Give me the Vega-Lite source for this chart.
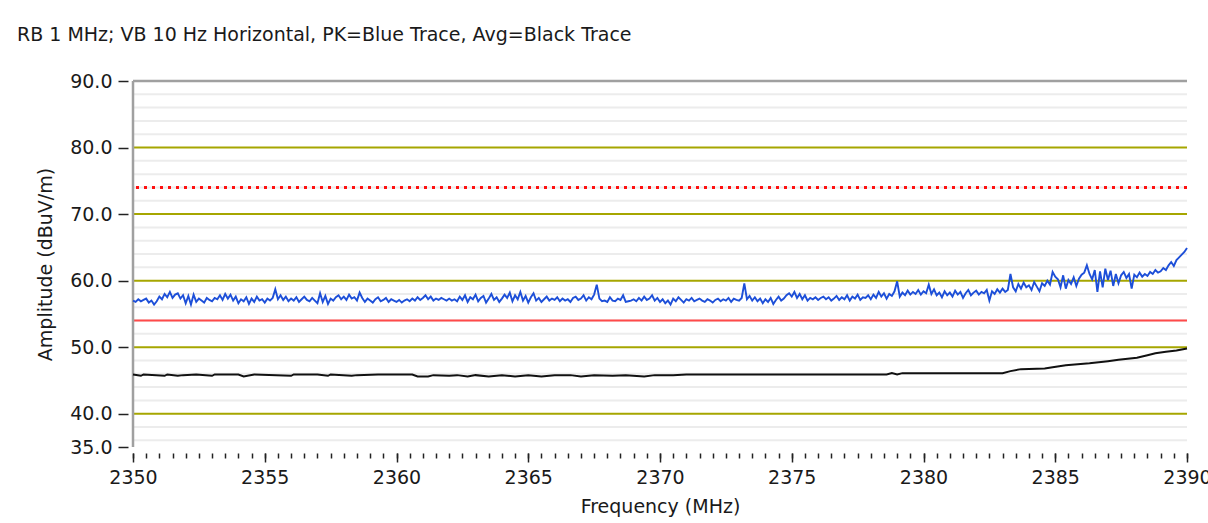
{
"$schema":"https://vega.github.io/schema/vega-lite/v6.json",
"width":1054,"height":366,"autosize":"none",
"padding":{"left":133,"top":81,"right":21,"bottom":76},
"background":"white",
"title":{"text":"RB 1 MHz; VB 10 Hz Horizontal, PK=Blue Trace, Avg=Black Trace","anchor":"start","frame":"group","dx":-116,"offset":12,"baseline":"alphabetic","font":"DejaVu Sans","fontSize":19,"fontWeight":"normal","color":"#1a1a1a"},
"datasets":{
"grid":[{"y":36,"k":"minor"},{"y":38,"k":"minor"},{"y":42,"k":"minor"},{"y":44,"k":"minor"},{"y":46,"k":"minor"},{"y":48,"k":"minor"},{"y":52,"k":"minor"},{"y":54,"k":"minor"},{"y":56,"k":"minor"},{"y":58,"k":"minor"},{"y":62,"k":"minor"},{"y":64,"k":"minor"},{"y":66,"k":"minor"},{"y":68,"k":"minor"},{"y":72,"k":"minor"},{"y":74,"k":"minor"},{"y":76,"k":"minor"},{"y":78,"k":"minor"},{"y":82,"k":"minor"},{"y":84,"k":"minor"},{"y":86,"k":"minor"},{"y":88,"k":"minor"},{"y":40,"k":"major"},{"y":50,"k":"major"},{"y":60,"k":"major"},{"y":70,"k":"major"},{"y":80,"k":"major"},{"y":90,"k":"border"}],
"frame":[{"f":2350}],
"limits":[{"level":74,"type":"peak"},{"level":54,"type":"avg"}],
"avg":[{"f":2350.0,"v":45.9},{"f":2350.3,"v":45.7},{"f":2350.4,"v":45.9},{"f":2351.2,"v":45.7},{"f":2351.3,"v":45.9},{"f":2351.7,"v":45.7},{"f":2351.9,"v":45.8},{"f":2352.4,"v":45.9},{"f":2353.0,"v":45.7},{"f":2353.1,"v":45.9},{"f":2354.0,"v":45.9},{"f":2354.2,"v":45.6},{"f":2354.6,"v":45.9},{"f":2356.0,"v":45.7},{"f":2356.1,"v":45.9},{"f":2357.0,"v":45.9},{"f":2357.4,"v":45.7},{"f":2357.5,"v":45.9},{"f":2358.3,"v":45.7},{"f":2358.5,"v":45.8},{"f":2359.3,"v":45.9},{"f":2360.6,"v":45.9},{"f":2360.8,"v":45.6},{"f":2361.2,"v":45.6},{"f":2361.4,"v":45.8},{"f":2362.0,"v":45.7},{"f":2362.3,"v":45.8},{"f":2362.7,"v":45.6},{"f":2363.0,"v":45.8},{"f":2363.5,"v":45.6},{"f":2364.0,"v":45.8},{"f":2364.5,"v":45.6},{"f":2365.0,"v":45.8},{"f":2365.5,"v":45.6},{"f":2366.0,"v":45.8},{"f":2366.6,"v":45.8},{"f":2367.0,"v":45.6},{"f":2367.5,"v":45.8},{"f":2368.2,"v":45.7},{"f":2368.7,"v":45.8},{"f":2369.4,"v":45.6},{"f":2369.8,"v":45.8},{"f":2370.5,"v":45.8},{"f":2371.0,"v":45.9},{"f":2374.0,"v":45.9},{"f":2378.6,"v":45.9},{"f":2378.8,"v":46.1},{"f":2379.0,"v":45.9},{"f":2379.2,"v":46.1},{"f":2383.0,"v":46.1},{"f":2383.3,"v":46.4},{"f":2383.7,"v":46.7},{"f":2384.6,"v":46.8},{"f":2384.9,"v":47.0},{"f":2385.4,"v":47.3},{"f":2386.3,"v":47.6},{"f":2387.0,"v":47.9},{"f":2387.4,"v":48.1},{"f":2388.1,"v":48.4},{"f":2388.5,"v":48.8},{"f":2388.8,"v":49.1},{"f":2389.2,"v":49.3},{"f":2389.6,"v":49.5},{"f":2390.0,"v":49.8}],
"pk":[
{"f":2350.0,"v":57.0},{"f":2350.1,"v":56.8},{"f":2350.2,"v":57.2},{"f":2350.3,"v":56.9},{"f":2350.4,"v":57.1},{"f":2350.5,"v":57.3},{"f":2350.6,"v":56.7},{"f":2350.7,"v":57.0},{"f":2350.8,"v":56.4},{"f":2350.9,"v":56.9},
{"f":2351.0,"v":57.6},{"f":2351.1,"v":57.2},{"f":2351.2,"v":58.0},{"f":2351.3,"v":57.5},{"f":2351.4,"v":58.3},{"f":2351.5,"v":57.4},{"f":2351.6,"v":57.9},{"f":2351.7,"v":58.1},{"f":2351.8,"v":57.3},{"f":2351.9,"v":57.8},
{"f":2352.0,"v":56.6},{"f":2352.1,"v":57.7},{"f":2352.2,"v":56.4},{"f":2352.3,"v":57.9},{"f":2352.4,"v":56.8},{"f":2352.5,"v":57.3},{"f":2352.6,"v":57.0},{"f":2352.7,"v":56.7},{"f":2352.8,"v":57.4},{"f":2352.9,"v":57.1},
{"f":2353.0,"v":56.9},{"f":2353.1,"v":57.4},{"f":2353.2,"v":57.2},{"f":2353.3,"v":57.8},{"f":2353.4,"v":57.1},{"f":2353.5,"v":58.0},{"f":2353.6,"v":57.3},{"f":2353.7,"v":57.9},{"f":2353.8,"v":57.0},{"f":2353.9,"v":57.6},
{"f":2354.0,"v":56.6},{"f":2354.1,"v":57.2},{"f":2354.2,"v":56.9},{"f":2354.3,"v":57.5},{"f":2354.4,"v":56.5},{"f":2354.5,"v":57.3},{"f":2354.6,"v":56.8},{"f":2354.7,"v":57.6},{"f":2354.8,"v":57.0},{"f":2354.9,"v":57.2},
{"f":2355.0,"v":56.7},{"f":2355.1,"v":57.3},{"f":2355.2,"v":57.0},{"f":2355.3,"v":57.4},{"f":2355.4,"v":58.7},{"f":2355.5,"v":57.2},{"f":2355.6,"v":57.8},{"f":2355.7,"v":57.1},{"f":2355.8,"v":57.6},{"f":2355.9,"v":56.9},
{"f":2356.0,"v":57.3},{"f":2356.1,"v":57.0},{"f":2356.2,"v":57.5},{"f":2356.3,"v":56.8},{"f":2356.4,"v":57.2},{"f":2356.5,"v":57.6},{"f":2356.6,"v":57.1},{"f":2356.7,"v":56.9},{"f":2356.8,"v":57.4},{"f":2356.9,"v":57.0},
{"f":2357.0,"v":56.6},{"f":2357.1,"v":58.1},{"f":2357.2,"v":56.8},{"f":2357.3,"v":57.7},{"f":2357.4,"v":56.5},{"f":2357.5,"v":57.3},{"f":2357.6,"v":57.0},{"f":2357.7,"v":57.5},{"f":2357.8,"v":57.8},{"f":2357.9,"v":57.2},
{"f":2358.0,"v":57.6},{"f":2358.1,"v":57.1},{"f":2358.2,"v":57.9},{"f":2358.3,"v":57.3},{"f":2358.4,"v":57.5},{"f":2358.5,"v":57.0},{"f":2358.6,"v":58.2},{"f":2358.7,"v":57.4},{"f":2358.8,"v":56.8},{"f":2358.9,"v":57.3},
{"f":2359.0,"v":57.0},{"f":2359.1,"v":56.7},{"f":2359.2,"v":57.2},{"f":2359.3,"v":57.5},{"f":2359.4,"v":56.9},{"f":2359.5,"v":57.1},{"f":2359.6,"v":57.4},{"f":2359.7,"v":56.8},{"f":2359.8,"v":57.2},{"f":2359.9,"v":57.0},
{"f":2360.0,"v":56.8},{"f":2360.1,"v":57.1},{"f":2360.2,"v":56.7},{"f":2360.3,"v":57.0},{"f":2360.4,"v":57.2},{"f":2360.5,"v":56.9},{"f":2360.6,"v":57.3},{"f":2360.7,"v":57.0},{"f":2360.8,"v":57.5},{"f":2360.9,"v":57.1},
{"f":2361.0,"v":57.4},{"f":2361.1,"v":57.8},{"f":2361.2,"v":57.2},{"f":2361.3,"v":57.6},{"f":2361.4,"v":57.0},{"f":2361.5,"v":57.3},{"f":2361.6,"v":57.1},{"f":2361.7,"v":57.4},{"f":2361.8,"v":57.2},{"f":2361.9,"v":57.0},
{"f":2362.0,"v":57.3},{"f":2362.1,"v":57.0},{"f":2362.2,"v":57.2},{"f":2362.3,"v":56.9},{"f":2362.4,"v":57.6},{"f":2362.5,"v":57.1},{"f":2362.6,"v":57.8},{"f":2362.7,"v":56.8},{"f":2362.8,"v":57.5},{"f":2362.9,"v":57.2},
{"f":2363.0,"v":57.9},{"f":2363.1,"v":56.9},{"f":2363.2,"v":57.4},{"f":2363.3,"v":57.7},{"f":2363.4,"v":56.7},{"f":2363.5,"v":57.3},{"f":2363.6,"v":58.0},{"f":2363.7,"v":57.1},{"f":2363.8,"v":57.5},{"f":2363.9,"v":56.8},
{"f":2364.0,"v":57.3},{"f":2364.1,"v":57.9},{"f":2364.2,"v":57.4},{"f":2364.3,"v":58.2},{"f":2364.4,"v":56.9},{"f":2364.5,"v":57.8},{"f":2364.6,"v":57.2},{"f":2364.7,"v":58.3},{"f":2364.8,"v":57.0},{"f":2364.9,"v":57.7},
{"f":2365.0,"v":56.7},{"f":2365.1,"v":57.5},{"f":2365.2,"v":58.1},{"f":2365.3,"v":57.0},{"f":2365.4,"v":57.4},{"f":2365.5,"v":56.8},{"f":2365.6,"v":57.2},{"f":2365.7,"v":57.6},{"f":2365.8,"v":57.0},{"f":2365.9,"v":57.3},
{"f":2366.0,"v":57.1},{"f":2366.1,"v":57.5},{"f":2366.2,"v":56.9},{"f":2366.3,"v":57.3},{"f":2366.4,"v":57.0},{"f":2366.5,"v":57.2},{"f":2366.6,"v":56.8},{"f":2366.7,"v":57.4},{"f":2366.8,"v":57.6},{"f":2366.9,"v":57.1},
{"f":2367.0,"v":57.3},{"f":2367.1,"v":57.8},{"f":2367.2,"v":57.0},{"f":2367.3,"v":57.5},{"f":2367.4,"v":57.2},{"f":2367.5,"v":57.9},{"f":2367.6,"v":59.4},{"f":2367.7,"v":57.3},{"f":2367.8,"v":56.9},{"f":2367.9,"v":57.0},
{"f":2368.0,"v":56.8},{"f":2368.1,"v":57.5},{"f":2368.2,"v":57.0},{"f":2368.3,"v":56.9},{"f":2368.4,"v":57.3},{"f":2368.5,"v":57.1},{"f":2368.6,"v":57.8},{"f":2368.7,"v":56.8},{"f":2368.8,"v":56.9},{"f":2368.9,"v":57.0},
{"f":2369.0,"v":57.2},{"f":2369.1,"v":56.9},{"f":2369.2,"v":57.4},{"f":2369.3,"v":57.0},{"f":2369.4,"v":57.6},{"f":2369.5,"v":57.1},{"f":2369.6,"v":57.3},{"f":2369.7,"v":57.8},{"f":2369.8,"v":57.0},{"f":2369.9,"v":57.4},
{"f":2370.0,"v":56.8},{"f":2370.1,"v":57.2},{"f":2370.2,"v":56.6},{"f":2370.3,"v":57.0},{"f":2370.4,"v":56.4},{"f":2370.5,"v":57.3},{"f":2370.6,"v":56.9},{"f":2370.7,"v":57.5},{"f":2370.8,"v":57.1},{"f":2370.9,"v":56.7},
{"f":2371.0,"v":57.2},{"f":2371.1,"v":57.0},{"f":2371.2,"v":57.4},{"f":2371.3,"v":56.9},{"f":2371.4,"v":57.1},{"f":2371.5,"v":57.3},{"f":2371.6,"v":57.0},{"f":2371.7,"v":56.8},{"f":2371.8,"v":57.2},{"f":2371.9,"v":57.0},
{"f":2372.0,"v":56.7},{"f":2372.1,"v":57.1},{"f":2372.2,"v":57.3},{"f":2372.3,"v":56.9},{"f":2372.4,"v":57.2},{"f":2372.5,"v":57.0},{"f":2372.6,"v":57.4},{"f":2372.7,"v":56.8},{"f":2372.8,"v":57.3},{"f":2372.9,"v":57.1},
{"f":2373.0,"v":57.0},{"f":2373.1,"v":57.4},{"f":2373.2,"v":59.6},{"f":2373.3,"v":57.2},{"f":2373.4,"v":57.7},{"f":2373.5,"v":57.0},{"f":2373.6,"v":57.5},{"f":2373.7,"v":56.9},{"f":2373.8,"v":57.3},{"f":2373.9,"v":56.6},
{"f":2374.0,"v":57.2},{"f":2374.1,"v":56.8},{"f":2374.2,"v":57.4},{"f":2374.3,"v":56.5},{"f":2374.4,"v":57.1},{"f":2374.5,"v":57.6},{"f":2374.6,"v":57.0},{"f":2374.7,"v":57.3},{"f":2374.8,"v":57.8},{"f":2374.9,"v":58.1},
{"f":2375.0,"v":57.6},{"f":2375.1,"v":58.3},{"f":2375.2,"v":57.4},{"f":2375.3,"v":58.0},{"f":2375.4,"v":57.2},{"f":2375.5,"v":57.8},{"f":2375.6,"v":57.0},{"f":2375.7,"v":57.4},{"f":2375.8,"v":57.2},{"f":2375.9,"v":57.5},
{"f":2376.0,"v":57.1},{"f":2376.1,"v":57.4},{"f":2376.2,"v":57.6},{"f":2376.3,"v":57.2},{"f":2376.4,"v":57.5},{"f":2376.5,"v":57.0},{"f":2376.6,"v":57.3},{"f":2376.7,"v":57.7},{"f":2376.8,"v":57.1},{"f":2376.9,"v":57.5},
{"f":2377.0,"v":57.2},{"f":2377.1,"v":57.8},{"f":2377.2,"v":57.0},{"f":2377.3,"v":57.6},{"f":2377.4,"v":57.3},{"f":2377.5,"v":57.9},{"f":2377.6,"v":57.1},{"f":2377.7,"v":57.5},{"f":2377.8,"v":57.4},{"f":2377.9,"v":57.8},
{"f":2378.0,"v":57.2},{"f":2378.1,"v":57.9},{"f":2378.2,"v":57.4},{"f":2378.3,"v":58.3},{"f":2378.4,"v":57.6},{"f":2378.5,"v":58.1},{"f":2378.6,"v":57.3},{"f":2378.7,"v":58.0},{"f":2378.8,"v":57.7},{"f":2378.9,"v":58.4},
{"f":2379.0,"v":59.9},{"f":2379.1,"v":57.6},{"f":2379.2,"v":58.2},{"f":2379.3,"v":57.8},{"f":2379.4,"v":58.5},{"f":2379.5,"v":57.9},{"f":2379.6,"v":58.3},{"f":2379.7,"v":58.0},{"f":2379.8,"v":58.6},{"f":2379.9,"v":57.9},
{"f":2380.0,"v":58.4},{"f":2380.1,"v":58.1},{"f":2380.2,"v":59.4},{"f":2380.3,"v":58.0},{"f":2380.4,"v":58.7},{"f":2380.5,"v":57.8},{"f":2380.6,"v":58.2},{"f":2380.7,"v":57.5},{"f":2380.8,"v":58.4},{"f":2380.9,"v":57.8},
{"f":2381.0,"v":58.2},{"f":2381.1,"v":57.6},{"f":2381.2,"v":58.5},{"f":2381.3,"v":57.9},{"f":2381.4,"v":58.3},{"f":2381.5,"v":57.4},{"f":2381.6,"v":58.1},{"f":2381.7,"v":58.6},{"f":2381.8,"v":57.8},{"f":2381.9,"v":58.2},
{"f":2382.0,"v":58.5},{"f":2382.1,"v":57.9},{"f":2382.2,"v":58.3},{"f":2382.3,"v":58.1},{"f":2382.4,"v":58.6},{"f":2382.5,"v":57.0},{"f":2382.6,"v":58.4},{"f":2382.7,"v":58.0},{"f":2382.8,"v":58.7},{"f":2382.9,"v":58.2},
{"f":2383.0,"v":58.8},{"f":2383.1,"v":58.3},{"f":2383.2,"v":58.6},{"f":2383.3,"v":61.0},{"f":2383.4,"v":59.0},{"f":2383.5,"v":58.4},{"f":2383.6,"v":59.5},{"f":2383.7,"v":58.8},{"f":2383.8,"v":59.7},{"f":2383.9,"v":59.0},
{"f":2384.0,"v":59.3},{"f":2384.1,"v":58.6},{"f":2384.2,"v":59.8},{"f":2384.3,"v":59.1},{"f":2384.4,"v":58.4},{"f":2384.5,"v":59.6},{"f":2384.6,"v":59.2},{"f":2384.7,"v":60.0},{"f":2384.8,"v":59.4},{"f":2384.9,"v":61.3},
{"f":2385.0,"v":60.6},{"f":2385.1,"v":60.2},{"f":2385.2,"v":59.0},{"f":2385.3,"v":60.8},{"f":2385.4,"v":58.8},{"f":2385.5,"v":60.1},{"f":2385.6,"v":59.5},{"f":2385.7,"v":60.5},{"f":2385.8,"v":59.2},{"f":2385.9,"v":60.3},
{"f":2386.0,"v":60.9},{"f":2386.1,"v":61.2},{"f":2386.2,"v":62.3},{"f":2386.3,"v":61.0},{"f":2386.4,"v":60.2},{"f":2386.5,"v":61.6},{"f":2386.6,"v":58.3},{"f":2386.7,"v":61.4},{"f":2386.8,"v":59.0},{"f":2386.9,"v":61.8},
{"f":2387.0,"v":60.1},{"f":2387.1,"v":61.5},{"f":2387.2,"v":59.2},{"f":2387.3,"v":61.0},{"f":2387.4,"v":59.6},{"f":2387.5,"v":60.8},{"f":2387.6,"v":61.3},{"f":2387.7,"v":60.4},{"f":2387.8,"v":61.0},{"f":2387.9,"v":58.8},
{"f":2388.0,"v":60.9},{"f":2388.1,"v":60.5},{"f":2388.2,"v":61.2},{"f":2388.3,"v":60.6},{"f":2388.4,"v":61.0},{"f":2388.5,"v":60.7},{"f":2388.6,"v":61.3},{"f":2388.7,"v":61.0},{"f":2388.8,"v":61.6},{"f":2388.9,"v":61.2},
{"f":2389.0,"v":61.4},{"f":2389.1,"v":61.9},{"f":2389.2,"v":61.6},{"f":2389.3,"v":62.3},{"f":2389.4,"v":62.8},{"f":2389.5,"v":62.2},{"f":2389.6,"v":63.1},{"f":2389.7,"v":63.5},{"f":2389.8,"v":63.9},{"f":2389.9,"v":64.3},
{"f":2390.0,"v":64.9}]
},
"resolve":{"axis":{"x":"independent"}},
"layer":[
{"data":{"name":"grid"},"transform":[{"filter":"datum.k === 'minor'"}],"mark":{"type":"rule","color":"#ececec","strokeWidth":2},
 "encoding":{"y":{"field":"y","type":"quantitative","title":"Amplitude (dBuV/m)","scale":{"domain":[35,90],"nice":false,"zero":false}}}},
{"data":{"name":"grid"},"transform":[{"filter":"datum.k === 'major'"}],"mark":{"type":"rule","color":"#a6a600","strokeWidth":2},
 "encoding":{"y":{"field":"y","type":"quantitative","title":"Amplitude (dBuV/m)"}}},
{"data":{"name":"grid"},"transform":[{"filter":"datum.k === 'border'"}],"mark":{"type":"rule","color":"#a0a0a0","strokeWidth":2.5},
 "encoding":{"y":{"field":"y","type":"quantitative","title":"Amplitude (dBuV/m)"}}},
{"data":{"name":"limits"},"transform":[{"filter":"datum.type === 'peak'"}],"mark":{"type":"rule","color":"#ff1010","strokeWidth":3,"strokeDash":[3,5]},
 "encoding":{"y":{"field":"level","type":"quantitative","title":"Amplitude (dBuV/m)"}}},
{"data":{"name":"limits"},"transform":[{"filter":"datum.type === 'avg'"}],"mark":{"type":"rule","color":"#ff4a4a","strokeWidth":2},
 "encoding":{"y":{"field":"level","type":"quantitative","title":"Amplitude (dBuV/m)"}}},
{"data":{"name":"frame"},"mark":{"type":"rule","color":"#a0a0a0","strokeWidth":2.5},
 "encoding":{"x":{"field":"f","type":"quantitative","title":"Frequency (MHz)","scale":{"domain":[2350,2390],"nice":false,"zero":false},
  "axis":{"orient":"bottom","values":[2350,2355,2360,2365,2370,2375,2380,2385,2390],"format":"d","labelOverlap":false,"labelFlush":false,"labelBound":false,
   "domain":false,"grid":false,"offset":6,"tickColor":"#222222","tickWidth":1.5,"tickSize":9,
   "labelPadding":6,"labelFont":"DejaVu Sans","labelFontSize":19,"labelColor":"#1a1a1a",
   "titleFont":"DejaVu Sans","titleFontSize":19,"titleFontWeight":"normal","titleColor":"#1a1a1a","titlePadding":10}}}},
{"data":{"name":"avg"},"mark":{"type":"line","color":"#111111","strokeWidth":2},
 "encoding":{"x":{"field":"f","type":"quantitative","axis":null},"y":{"field":"v","type":"quantitative","title":"Amplitude (dBuV/m)"}}},
{"data":{"name":"pk"},"mark":{"type":"line","color":"#1d4fd8","strokeWidth":1.9},
 "encoding":{
  "x":{"field":"f","type":"quantitative","axis":{"orient":"bottom","title":null,"labels":false,"values":[2350,2350.5,2351,2351.5,2352,2352.5,2353,2353.5,2354,2354.5,2355,2355.5,2356,2356.5,2357,2357.5,2358,2358.5,2359,2359.5,2360,2360.5,2361,2361.5,2362,2362.5,2363,2363.5,2364,2364.5,2365,2365.5,2366,2366.5,2367,2367.5,2368,2368.5,2369,2369.5,2370,2370.5,2371,2371.5,2372,2372.5,2373,2373.5,2374,2374.5,2375,2375.5,2376,2376.5,2377,2377.5,2378,2378.5,2379,2379.5,2380,2380.5,2381,2381.5,2382,2382.5,2383,2383.5,2384,2384.5,2385,2385.5,2386,2386.5,2387,2387.5,2388,2388.5,2389,2389.5,2390],
   "domain":false,"grid":false,"offset":6,"tickColor":"#222222","tickWidth":1.5,"tickSize":5}},
  "y":{"field":"v","type":"quantitative","title":"Amplitude (dBuV/m)","axis":{"values":[35,40,50,60,70,80,90],"format":".1f",
   "domain":false,"grid":false,"offset":5,"tickSize":10,"tickColor":"#222222","tickWidth":1.5,"labelPadding":6,"labelOverlap":false,"labelFlush":false,
   "labelFont":"DejaVu Sans","labelFontSize":19,"labelColor":"#1a1a1a",
   "titleFont":"DejaVu Sans","titleFontSize":19,"titleFontWeight":"normal","titleColor":"#1a1a1a","titlePadding":14}}}}
],
"config":{"view":{"stroke":null},"axis":{"grid":false,"domain":false}}
}
